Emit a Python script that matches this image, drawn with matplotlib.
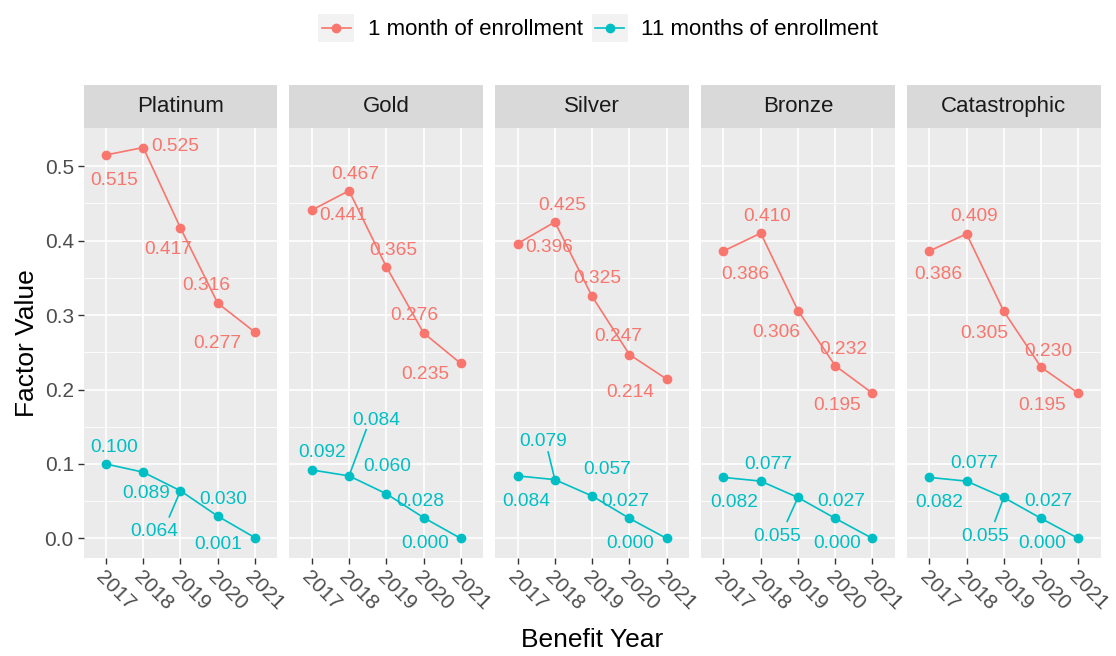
import matplotlib
matplotlib.use('Agg')
import matplotlib.pyplot as plt
from matplotlib.patches import Rectangle
from matplotlib.lines import Line2D
from matplotlib.legend_handler import HandlerBase

plt.rcParams['font.family'] = ['Liberation Sans', 'DejaVu Sans']

years = [2017, 2018, 2019, 2020, 2021]
tiers = ['Platinum', 'Gold', 'Silver', 'Bronze', 'Catastrophic']
series_names = ['1 month of enrollment', '11 months of enrollment']

one_month = [
    [0.515, 0.525, 0.417, 0.316, 0.277],
    [0.441, 0.467, 0.365, 0.276, 0.235],
    [0.396, 0.425, 0.325, 0.247, 0.214],
    [0.386, 0.410, 0.306, 0.232, 0.195],
    [0.386, 0.409, 0.305, 0.230, 0.195],
]
eleven_months = [
    [0.100, 0.089, 0.064, 0.030, 0.001],
    [0.092, 0.084, 0.060, 0.028, 0.000],
    [0.084, 0.079, 0.057, 0.027, 0.000],
    [0.082, 0.077, 0.055, 0.027, 0.000],
    [0.082, 0.077, 0.055, 0.027, 0.000],
]

# label offsets (years, value) as placed by ggrepel in the original
one_month_nudge = [
    [(0.22, -0.034), (0.86, 0.001), (-0.32, -0.029), (-0.30, 0.024), (-1.0, -0.015)],
    [(0.83, -0.007), (0.16, 0.022), (0.20, 0.022), (-0.24, 0.023), (-0.96, -0.015)],
    [(0.85, -0.005), (0.20, 0.022), (0.14, 0.024), (-0.29, 0.024), (-0.98, -0.018)],
    [(0.58, -0.031), (0.18, 0.022), (-0.58, -0.030), (0.23, 0.022), (-0.95, -0.017)],
    [(0.24, -0.031), (0.20, 0.023), (-0.53, -0.030), (0.20, 0.021), (-0.96, -0.017)],
]
eleven_nudge = [
    [(0.22, 0.022), (0.07, -0.029), (-0.71, -0.055), (0.15, 0.022), (-1.0, -0.009)],
    [(0.28, 0.024), (0.73, 0.075), (0.02, 0.036), (-0.08, 0.022), (-0.96, -0.007)],
    [(0.24, -0.035), (-0.31, 0.051), (0.41, 0.036), (-0.11, 0.023), (-0.97, -0.007)],
    [(0.29, -0.034), (0.20, 0.022), (-0.56, -0.052), (0.17, 0.023), (-0.95, -0.007)],
    [(0.27, -0.034), (0.22, 0.024), (-0.51, -0.052), (0.20, 0.023), (-0.96, -0.007)],
]
# repel segments: (point index, segment tip offset)
eleven_segments = [
    (2, (-0.30, -0.035)),
    (1, (0.46, 0.062)),
    (1, (-0.18, 0.037)),
    (2, (-0.29, -0.032)),
    (2, (-0.24, -0.032)),
]

colors = ['#F8766D', '#00BFC4']


class KeyHandler(HandlerBase):
    def create_artists(self, legend, orig_handle, xdescent, ydescent,
                       width, height, fontsize, trans):
        c = orig_handle.get_color()
        x0, y0 = -xdescent, -ydescent
        rect = Rectangle((x0, y0), width, height, fc='#F2F2F2', ec='none',
                         transform=trans)
        ym = y0 + height / 2
        line = Line2D([x0 + width * 0.1, x0 + width * 0.9], [ym, ym],
                      color=c, lw=1.2, transform=trans)
        dot = Line2D([x0 + width / 2], [ym], marker='o', ms=6, color=c,
                     lw=0, transform=trans)
        return [rect, line, dot]


fig = plt.figure(figsize=(11.16, 6.56), dpi=100)

left0, w, gap = 0.0749, 0.1736, 0.01084
bottom, h = 0.1494, 0.6555
strip_h = 0.0993

handles = []
for i, tier in enumerate(tiers):
    ax = fig.add_axes([left0 + i * (w + gap), bottom, w, h])
    ax.set_facecolor('#EBEBEB')
    ax.set_xlim(2016.4, 2021.6)
    ax.set_ylim(-0.02625, 0.55125)
    ax.set_xticks(years)
    ax.set_xticklabels([str(y) for y in years], rotation=-45, ha='left',
                       va='top', rotation_mode='anchor')
    ax.set_yticks([0.0, 0.1, 0.2, 0.3, 0.4, 0.5])
    ax.set_yticks([0.05, 0.15, 0.25, 0.35, 0.45], minor=True)
    ax.grid(which='major', color='white', lw=1.2)
    ax.grid(which='minor', axis='y', color='white', lw=0.6)
    ax.set_axisbelow(True)
    for s in ax.spines.values():
        s.set_visible(False)
    ax.tick_params(which='major', length=4, width=1, color='#333333',
                   labelcolor='#4D4D4D', labelsize=15, pad=3)
    ax.tick_params(which='minor', length=0)
    if i == 0:
        ax.set_yticklabels(['0.0', '0.1', '0.2', '0.3', '0.4', '0.5'])
    else:
        ax.tick_params(axis='y', left=False, labelleft=False)

    for vals, nudge, col in [(one_month[i], one_month_nudge[i], colors[0]),
                             (eleven_months[i], eleven_nudge[i], colors[1])]:
        ln, = ax.plot(years, vals, color=col, lw=1.2, marker='o', ms=6)
        if i == 0:
            handles.append(ln)
        for x, y, (dx, dy) in zip(years, vals, nudge):
            ax.text(x + dx, y + dy, f'{y:.3f}', color=col, size=13.8,
                    ha='center', va='center')

    k, (sx, sy) = eleven_segments[i]
    px, py = years[k], eleven_months[i][k]
    ax.plot([px, px + sx], [py, py + sy], color=colors[1], lw=1.2)

    ax.add_patch(Rectangle((0, 1), 1, strip_h, transform=ax.transAxes,
                           fc='#D9D9D9', ec='none', clip_on=False))
    ax.text(0.5, 1 + strip_h / 2, tier, transform=ax.transAxes, ha='center',
            va='center', size=16, color='#1A1A1A')

fig.text(0.5305, 0.0244, 'Benefit Year', ha='center', va='center', size=19)
fig.text(0.024, 0.477, 'Factor Value', ha='center', va='center', size=19,
         rotation=90)

fig.legend(handles, series_names, loc='center', bbox_to_anchor=(0.536, 1 - 28 / 656),
           ncol=2, frameon=False, handler_map={Line2D: KeyHandler()},
           handlelength=1.62, handleheight=1.62, handletextpad=0.6,
           columnspacing=0.4, fontsize=16)

fig.savefig('out.png', dpi=100)
